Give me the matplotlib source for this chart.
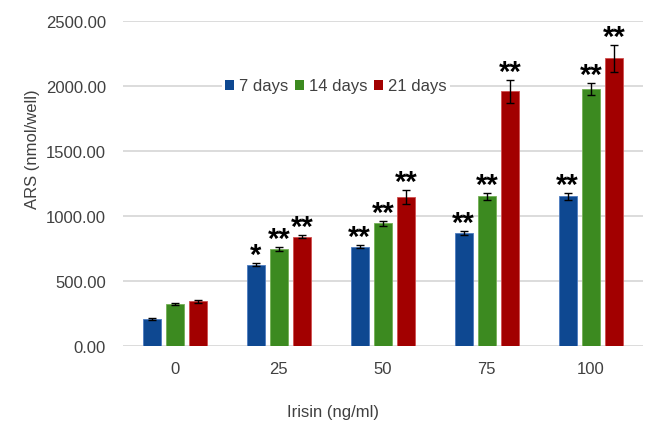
import numpy as np
import matplotlib
matplotlib.use("Agg")
import matplotlib.pyplot as plt
from matplotlib.patches import Patch

plt.rcParams["font.family"] = ["Liberation Sans", "DejaVu Sans"]

# data
doses = ["0", "25", "50", "75", "100"]
series = ["7 days", "14 days", "21 days"]
vals_7 = [208, 626, 764, 869, 1151]
vals_14 = [323, 746, 944, 1151, 1977]
vals_21 = [344, 841, 1144, 1959, 2213]
err_7 = [10, 12, 12, 15, 25]
err_14 = [10, 12, 19, 25, 45]
err_21 = [10, 12, 55, 87, 103]
sig_7 = ["", "*", "**", "**", "**"]
sig_14 = ["", "**", "**", "**", "**"]
sig_21 = ["", "**", "**", "**", "**"]

colors = ["#0E4891", "#3C8A20", "#A20000"]
edges = ["#4D7CC0", "#74B055", "#D05050"]

fig = plt.figure(figsize=(6.46, 4.31), dpi=100)
ax = fig.add_axes([0.190, 0.195, 0.805, 0.754])

x = np.arange(len(doses))
w = 0.175
step = 0.222
all_vals = [vals_7, vals_14, vals_21]
all_err = [err_7, err_14, err_21]
all_sig = [sig_7, sig_14, sig_21]
for i in range(3):
    xs = x + (i - 1) * step
    ax.bar(xs, all_vals[i], w, color=colors[i], edgecolor=edges[i], linewidth=0.6,
           zorder=3)
    ax.errorbar(xs, all_vals[i], yerr=all_err[i], fmt="none", ecolor="black",
                elinewidth=1.0, capsize=3, capthick=1.0, zorder=4)
    for xi, v, e, s in zip(xs, all_vals[i], all_err[i], all_sig[i]):
        if s:
            ax.text(xi, v + e - 45, s, ha="center", va="bottom", fontsize=21,
                    fontweight="bold", color="black", clip_on=False, zorder=5)

ax.set_ylim(0, 2500)
ax.set_xlim(-0.5, len(doses) - 0.5)
ax.set_yticks(np.arange(0, 2501, 500))
ax.set_yticklabels([f"{v:.2f}" for v in np.arange(0, 2501, 500)])
ax.set_xticks(x)
ax.set_xticklabels(doses)
ax.tick_params(axis="both", length=0, labelsize=12, labelcolor="#404040")
ax.tick_params(axis="y", pad=12)
ax.tick_params(axis="x", pad=11)
ax.grid(axis="y", color="#D9D9D9", linewidth=1.3, zorder=0)
for sp in ax.spines.values():
    sp.set_visible(False)

ax.set_ylabel("ARS (nmol/well)", fontsize=12, color="#404040")
ax.yaxis.set_label_coords(-0.16, 0.61)
ax.set_xlabel("Irisin (ng/ml)", fontsize=12, color="#404040")
ax.xaxis.set_label_coords(0.405, -0.18)

handles = [Patch(facecolor=c) for c in colors]
leg = ax.legend(handles, series, loc="center", bbox_to_anchor=(0.41, 0.8),
                ncol=3, frameon=True, fontsize=12, handlelength=0.55,
                handleheight=0.55, handletextpad=0.3, columnspacing=0.4,
                borderpad=0.2, labelcolor="#404040")
leg.get_frame().set_edgecolor("none")
leg.get_frame().set_facecolor("white")
leg.get_frame().set_alpha(1)
leg.set_zorder(6)

fig.savefig("out.png", dpi=100)
